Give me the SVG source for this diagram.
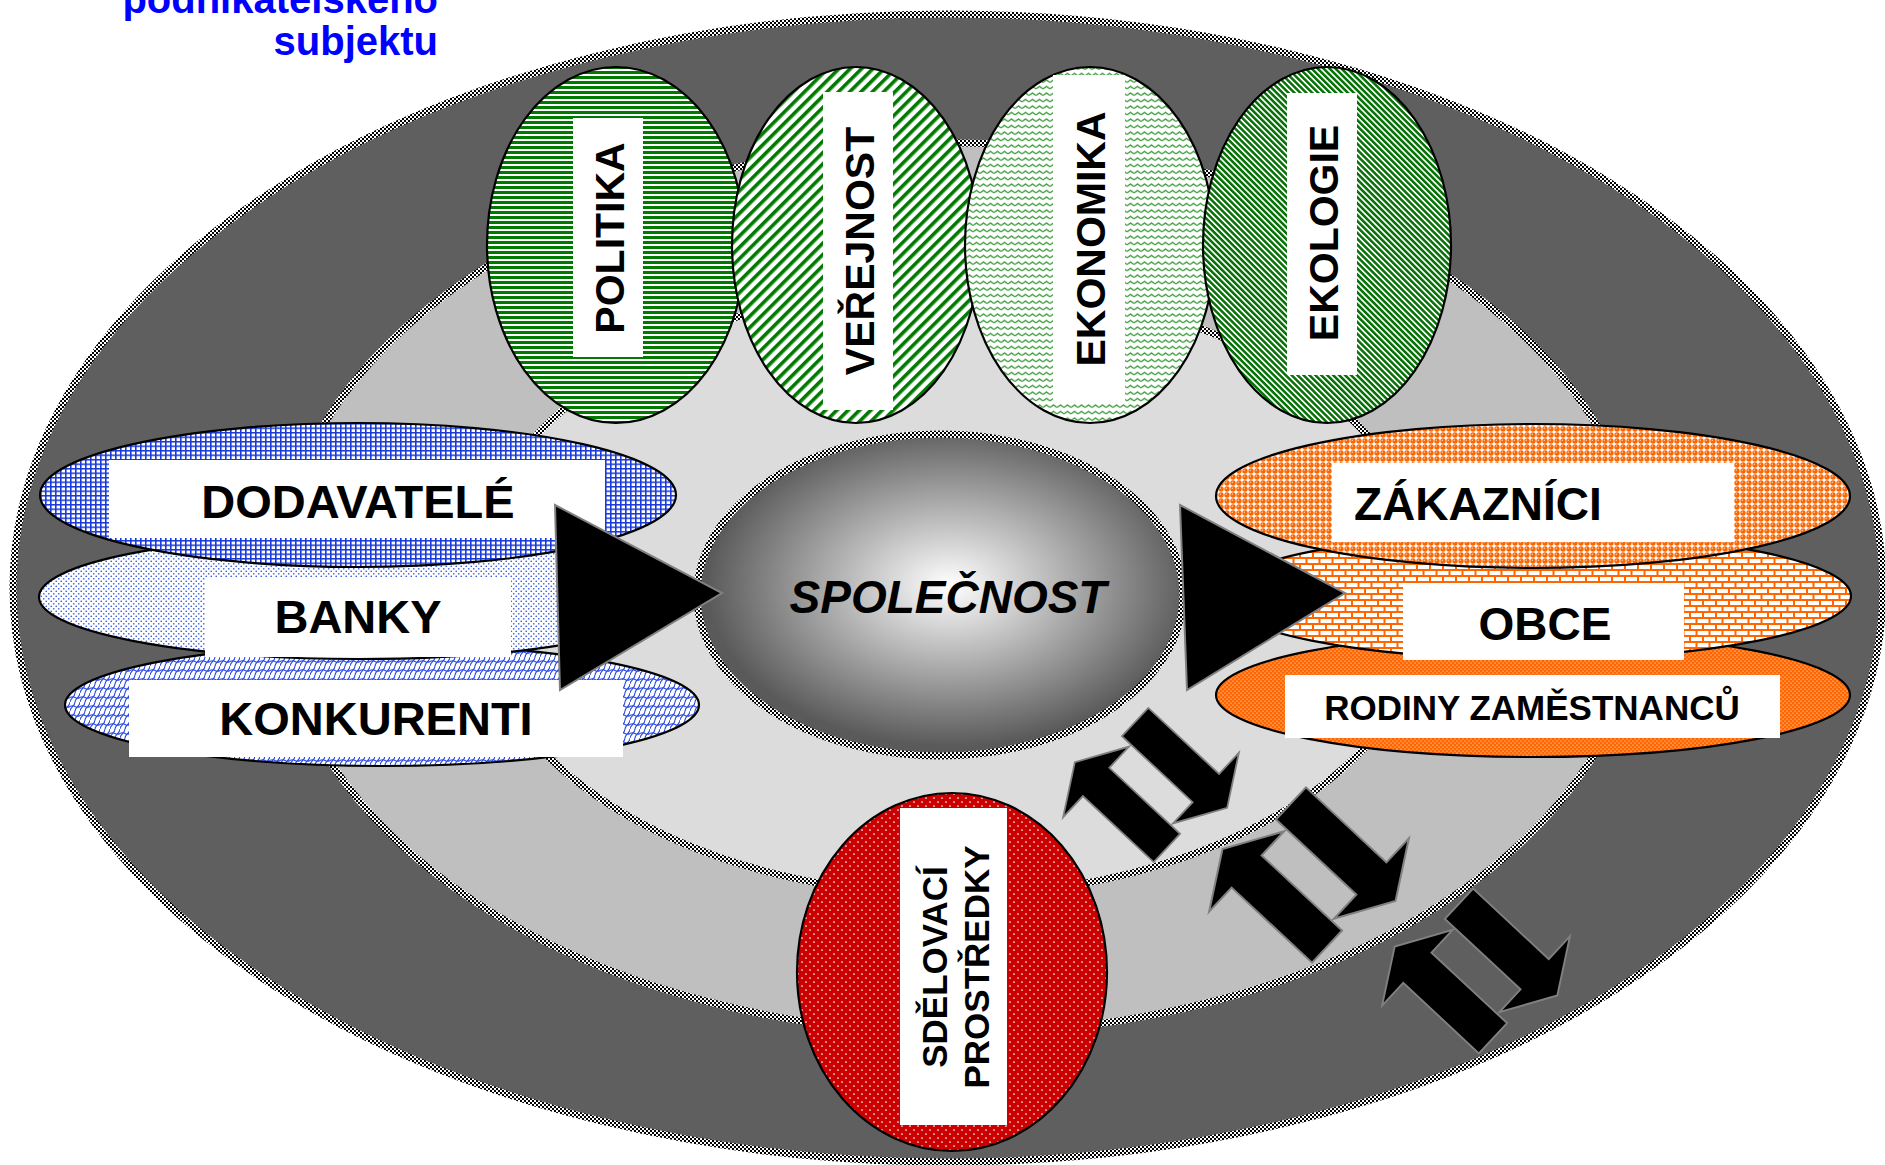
<svg xmlns="http://www.w3.org/2000/svg" xmlns:xlink="http://www.w3.org/1999/xlink" width="1885" height="1165" viewBox="0 0 1885 1165">
  <defs>
    <style>
      .lbl { font-family: "Liberation Sans", Arial, sans-serif; font-weight: bold; fill: #000; }
      .big { font-size: 46px; }
      .side { font-size: 47px; text-anchor: middle; }
      .vert { font-size: 41px; text-anchor: middle; }
      .ring { stroke: url(#pChk); stroke-width: 7; }
      .node { stroke: #000; stroke-width: 2.2; }
      .box { fill: #fff; }
      .conn { fill: #000; stroke: #808080; stroke-width: 2; stroke-linejoin: miter; }
      .title { font-family: "Liberation Sans", Arial, sans-serif; font-weight: bold; font-size: 40px; fill: #0000ff; text-anchor: end; }
    </style>

    <!-- checkered border used on rings and the centre ellipse -->
    <pattern id="pChk" width="4" height="4" patternUnits="userSpaceOnUse">
      <rect width="4" height="4" fill="#fff"/>
      <rect width="2" height="2" fill="#000"/>
      <rect x="2" y="2" width="2" height="2" fill="#000"/>
    </pattern>

    <!-- green fills -->
    <pattern id="pPol" width="6" height="5" patternUnits="userSpaceOnUse">
      <rect width="6" height="5" fill="#fff"/>
      <rect y="1" width="6" height="3" fill="#007a00"/>
    </pattern>
    <pattern id="pVer" width="8" height="8" patternUnits="userSpaceOnUse" patternTransform="rotate(45)">
      <rect width="8" height="8" fill="#fff"/>
      <rect width="3.6" height="8" fill="#007a00"/>
    </pattern>
    <pattern id="pEko" width="7" height="6.5" patternUnits="userSpaceOnUse">
      <rect width="7" height="6.5" fill="#fff"/>
      <path d="M0,4.5 L3.5,2 L7,4.5" fill="none" stroke="#2f962f" stroke-width="1.2"/>
    </pattern>
    <pattern id="pEkl" width="4.2" height="4.2" patternUnits="userSpaceOnUse" patternTransform="rotate(-45)">
      <rect width="4.2" height="4.2" fill="#fff"/>
      <rect width="2.5" height="4.2" fill="#087208"/>
    </pattern>

    <!-- blue fills -->
    <pattern id="pDod" width="5" height="4.5" patternUnits="userSpaceOnUse">
      <rect width="5" height="4.5" fill="#fff"/>
      <rect width="1.6" height="4.5" fill="#1a3ad8"/>
      <rect width="5" height="1.5" fill="#1a3ad8"/>
    </pattern>
    <pattern id="pBan" width="5" height="5" patternUnits="userSpaceOnUse">
      <rect width="5" height="5" fill="#fff"/>
      <circle cx="1.25" cy="1.25" r="0.85" fill="#3a5ee0"/>
      <circle cx="3.75" cy="3.75" r="0.85" fill="#3a5ee0"/>
    </pattern>
    <pattern id="pKon" width="10" height="9" patternUnits="userSpaceOnUse">
      <rect width="10" height="9" fill="#fff"/>
      <path d="M0,9 C0,5 5,4.5 5,0 M5,9 C5,5 10,4.5 10,0 M0,4.5 Q2.5,3 5,4.5 T10,4.5" fill="none" stroke="#2a4ae0" stroke-width="1.1"/>
    </pattern>

    <!-- orange fills -->
    <pattern id="pZak" width="6" height="6" patternUnits="userSpaceOnUse">
      <rect width="6" height="6" fill="#fff"/>
      <circle cx="3" cy="3" r="2.7" fill="#ff6600"/>
      <circle cx="2.3" cy="2.3" r="0.7" fill="#ffd0a8"/>
    </pattern>
    <pattern id="pObc" width="13" height="12" patternUnits="userSpaceOnUse">
      <rect width="13" height="12" fill="#ff6600"/>
      <rect x="1" y="1" width="11" height="4" fill="#fff"/>
      <rect x="-5.5" y="7" width="11" height="4" fill="#fff"/>
      <rect x="7.5" y="7" width="11" height="4" fill="#fff"/>
    </pattern>
    <pattern id="pRod" width="4" height="4" patternUnits="userSpaceOnUse">
      <rect width="4" height="4" fill="#ff6600"/>
      <circle cx="1" cy="1" r="0.6" fill="#fff"/>
      <circle cx="3" cy="3" r="0.6" fill="#fff"/>
    </pattern>

    <!-- red fill -->
    <pattern id="pRed" width="8" height="8" patternUnits="userSpaceOnUse">
      <rect width="8" height="8" fill="#cc0000"/>
      <circle cx="2" cy="2" r="0.85" fill="#fff"/>
      <circle cx="6" cy="6" r="0.85" fill="#fff"/>
    </pattern>

    <radialGradient id="gCore" cx="0.52" cy="0.47" r="0.5">
      <stop offset="0" stop-color="#ffffff"/>
      <stop offset="1" stop-color="#5a5a5a"/>
    </radialGradient>

    <!-- pair of opposite block arrows, local axis along x -->
    <g id="dblArrow">
      <polygon points="-62,-18 -62,-62 48,-62 48,-95 81,-40 48,15 48,-18"/>
      <polygon points="62,18 62,62 -48,62 -48,95 -81,40 -48,-15 -48,18"/>
    </g>
  </defs>

  <!-- concentric rings -->
  <g id="rings">
    <ellipse class="ring" cx="948" cy="588" rx="935" ry="574" fill="#5f5f5f"/>
    <ellipse class="ring" cx="960" cy="588" rx="684" ry="445" fill="#bfbfbf"/>
    <ellipse class="ring" cx="952" cy="590" rx="482" ry="305" fill="#dcdcdc"/>
  </g>

  <g id="title">
    <text class="title" x="438" y="13">podnikatelského</text>
    <text class="title" x="438" y="55">subjektu</text>
  </g>

  <!-- top row -->
  <g id="politika">
    <ellipse class="node" cx="616" cy="245" rx="129" ry="178" fill="url(#pPol)"/>
    <rect class="box" x="573" y="118" width="70" height="239"/>
    <text class="lbl vert" transform="translate(624,238) rotate(-90)">POLITIKA</text>
  </g>
  <g id="verejnost">
    <ellipse class="node" cx="856" cy="245" rx="124" ry="178" fill="url(#pVer)"/>
    <rect class="box" x="823" y="92" width="70" height="318"/>
    <text class="lbl vert" transform="translate(874,251) rotate(-90)">VEŘEJNOST</text>
  </g>
  <g id="ekonomika">
    <ellipse class="node" cx="1090" cy="245" rx="125" ry="178" fill="url(#pEko)"/>
    <rect class="box" x="1053" y="75" width="72" height="328"/>
    <text class="lbl vert" transform="translate(1105,239) rotate(-90)">EKONOMIKA</text>
  </g>
  <g id="ekologie">
    <ellipse class="node" cx="1327" cy="245" rx="124" ry="178" fill="url(#pEkl)"/>
    <rect class="box" x="1287" y="93" width="70" height="282"/>
    <text class="lbl vert" transform="translate(1338,233) rotate(-90)">EKOLOGIE</text>
  </g>

  <!-- left stack -->
  <g id="konkurenti">
    <ellipse class="node" cx="382" cy="705" rx="317" ry="61" fill="url(#pKon)"/>
    <rect class="box" x="129" y="680" width="494" height="77"/>
    <text class="lbl side" x="376" y="735">KONKURENTI</text>
  </g>
  <g id="banky">
    <ellipse class="node" cx="359" cy="597" rx="320" ry="62" fill="url(#pBan)"/>
    <rect class="box" x="205" y="577" width="306" height="80"/>
    <text class="lbl side" x="358" y="633">BANKY</text>
  </g>
  <g id="dodavatele">
    <ellipse class="node" cx="358" cy="495" rx="318" ry="72" fill="url(#pDod)"/>
    <rect class="box" x="109" y="460" width="496" height="78"/>
    <text class="lbl side" x="358" y="518">DODAVATELÉ</text>
  </g>

  <!-- right stack -->
  <g id="rodiny">
    <ellipse class="node" cx="1533" cy="695" rx="317" ry="62" fill="url(#pRod)"/>
    <rect class="box" x="1285" y="675" width="495" height="63"/>
    <text class="lbl" x="1532" y="720" font-size="35" text-anchor="middle">RODINY ZAMĚSTNANCŮ</text>
  </g>
  <g id="obce">
    <ellipse class="node" cx="1535" cy="596" rx="316" ry="63" fill="url(#pObc)"/>
    <rect class="box" x="1403" y="583" width="281" height="77"/>
    <text class="lbl big" x="1545" y="640" text-anchor="middle">OBCE</text>
  </g>
  <g id="zakaznici">
    <ellipse class="node" cx="1533" cy="496" rx="317" ry="72" fill="url(#pZak)"/>
    <rect class="box" x="1332" y="463" width="402" height="79"/>
    <text class="lbl big" x="1354" y="520">ZÁKAZNÍCI</text>
  </g>

  <!-- centre -->
  <g id="spolecnost">
    <ellipse class="ring" cx="940" cy="595" rx="243" ry="161" fill="url(#gCore)"/>
    <text class="lbl big" x="948" y="613" text-anchor="middle" font-style="italic">SPOLEČNOST</text>
  </g>

  <!-- media -->
  <g id="sdelovaci-prostredky">
    <ellipse class="node" cx="952" cy="972" rx="155" ry="179" fill="url(#pRed)"/>
    <rect class="box" x="900" y="808" width="107" height="317"/>
    <text class="lbl" font-size="35" text-anchor="middle" transform="translate(947,967) rotate(-90)">SDĚLOVACÍ</text>
    <text class="lbl" font-size="35" text-anchor="middle" transform="translate(989,967) rotate(-90)">PROSTŘEDKY</text>
  </g>

  <!-- connectors -->
  <g id="connectors" class="conn">
    <polygon points="555,505 560,690 722,593"/>
    <polygon points="1180,505 1187,690 1345,593"/>
    <use xlink:href="#dblArrow" transform="translate(1151,785) rotate(43) scale(0.88)"/>
    <use xlink:href="#dblArrow" transform="translate(1309,875) rotate(43)"/>
    <use xlink:href="#dblArrow" transform="translate(1476,971) rotate(43) scale(0.94)"/>
  </g>
</svg>
